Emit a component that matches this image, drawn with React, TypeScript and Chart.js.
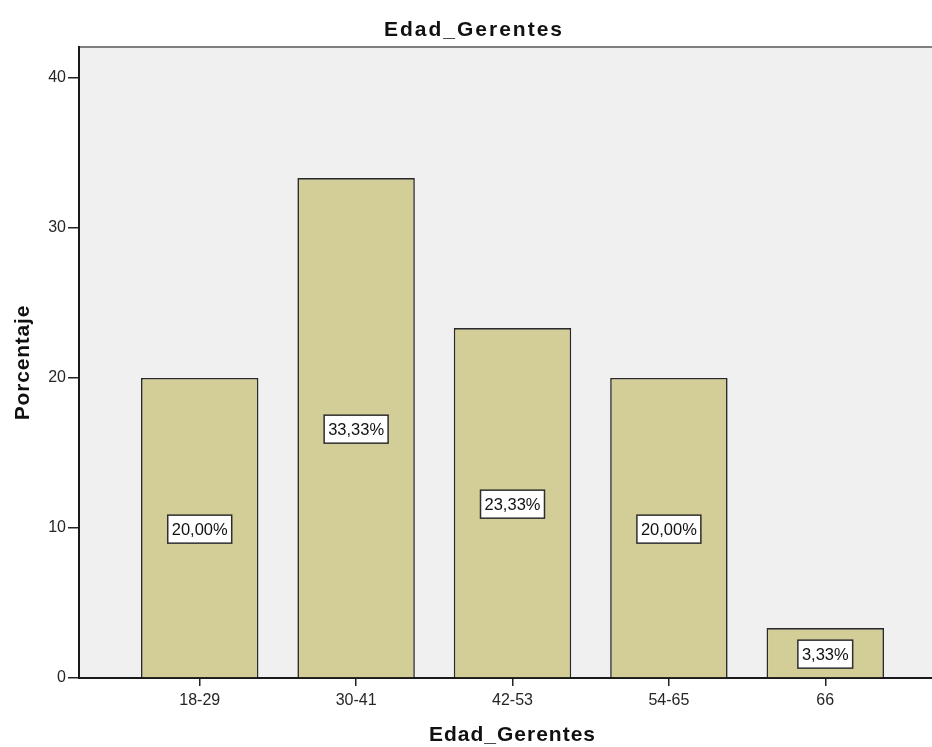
import React, { useEffect, useRef } from "react";
import { Chart, registerables, CategoryScale } from "chart.js";

Chart.register(...registerables);

// ---- data ----
const categories = ["18-29", "30-41", "42-53", "54-65", "66"];
const percentages = [20.0, 33.33, 23.33, 20.0, 3.33];
const yTicks = [0, 10, 20, 30, 40];
const yMax = 42.07;
const chartTitle = "Edad_Gerentes";
const xTitle = "Edad_Gerentes";
const yTitle = "Porcentaje";

const EDGE_PAD = 0.772;
const FONT = '"Liberation Sans", Arial, sans-serif';

class PaddedCategoryScale extends CategoryScale {
  static id = "paddedCategory";
  static defaults = CategoryScale.defaults;
  configure() {
    super.configure();
    const self = this as any;
    self._startValue = self.min - EDGE_PAD;
    self._valueRange = Math.max(self.max - self.min, 1) + 2 * EDGE_PAD;
  }
}
Chart.register(PaddedCategoryScale as any);

const spssPlugin = {
  id: "spssLook",
  beforeDraw(chart: any) {
    const { ctx, chartArea: a } = chart;
    ctx.save();
    ctx.fillStyle = "#f0f0f0";
    ctx.fillRect(a.left, a.top, a.right - a.left, a.bottom - a.top);
    ctx.strokeStyle = "#7f7f7f";
    ctx.lineWidth = 2;
    ctx.beginPath();
    ctx.moveTo(a.left, a.top);
    ctx.lineTo(a.right, a.top);
    ctx.stroke();
    ctx.restore();
  },
  afterDatasetsDraw(chart: any) {
    const { ctx } = chart;
    const meta = chart.getDatasetMeta(0);
    ctx.save();
    ctx.font = `16.5px ${FONT}`;
    meta.data.forEach((bar: any, i: number) => {
      const { x, y, base } = bar.getProps(["x", "y", "base"], true);
      const cy = (y + base) / 2 + 1.5;
      const text = percentages[i].toFixed(2).replace(".", ",") + "%";
      const w = ctx.measureText(text).width + 8;
      const h = 28;
      ctx.fillStyle = "#ffffff";
      ctx.fillRect(x - w / 2, cy - h / 2, w, h);
      ctx.strokeStyle = "#2e2e2e";
      ctx.lineWidth = 1.5;
      ctx.strokeRect(x - w / 2, cy - h / 2, w, h);
      ctx.fillStyle = "#111111";
      ctx.textAlign = "center";
      ctx.textBaseline = "middle";
      ctx.fillText(text, x, cy + 1);
    });
    ctx.restore();
  },
  afterDraw(chart: any) {
    const { ctx, chartArea: a } = chart;
    ctx.save();
    ctx.fillStyle = "#111111";
    ctx.textAlign = "center";
    ctx.textBaseline = "middle";
    ctx.font = `bold 21px ${FONT}`;
    (ctx as any).letterSpacing = "2px";
    ctx.fillText(chartTitle, chart.width / 2 + 1, 30);
    (ctx as any).letterSpacing = "1px";
    ctx.fillText(xTitle, (a.left + a.right) / 2, 735);
    (ctx as any).letterSpacing = "0.8px";
    ctx.translate(23, (a.top + a.bottom) / 2);
    ctx.rotate(-Math.PI / 2);
    ctx.fillText(yTitle, 0, 0);
    ctx.restore();
  },
};

export default function App() {
  const ref = useRef<HTMLCanvasElement | null>(null);
  useEffect(() => {
    if (!ref.current) return;
    const tickFont = { family: FONT, size: 16 };
    const chart = new Chart(ref.current, {
      type: "bar",
      data: {
        labels: categories,
        datasets: [
          {
            data: percentages,
            backgroundColor: "#d3ce97",
            borderColor: "#2a2a2a",
            borderWidth: 1.6,
            barPercentage: 0.751,
            categoryPercentage: 1,
          },
        ],
      },
      options: {
        responsive: false,
        animation: false,
        devicePixelRatio: 1,
        layout: { padding: { top: 47, left: 0, right: 0, bottom: 0 } },
        plugins: {
          legend: { display: false },
          title: { display: false },
          tooltip: { enabled: false },
        },
        scales: {
          x: {
            type: "paddedCategory" as any,
            offset: false,
            grid: {
              display: true,
              offset: false,
              drawOnChartArea: false,
              drawTicks: true,
              tickLength: 8,
              color: "#222222",
              lineWidth: 1.5,
            },
            border: { display: true, color: "#1a1a1a", width: 2 },
            ticks: {
              color: "#262626",
              font: tickFont,
              padding: 5,
              maxRotation: 0,
              autoSkip: false,
            },
            afterFit: (s: any) => {
              s.height = 69;
              s.paddingLeft = 0;
              s.paddingRight = 0;
            },
          } as any,
          y: {
            min: 0,
            max: yMax,
            afterBuildTicks: (s: any) => {
              s.ticks = yTicks.map((v) => ({ value: v }));
            },
            grid: {
              drawOnChartArea: false,
              drawTicks: true,
              tickLength: 11,
              color: "#222222",
              lineWidth: 1.5,
            },
            border: { display: true, color: "#1a1a1a", width: 2 },
            ticks: { color: "#262626", font: tickFont, padding: 2 },
            afterFit: (s: any) => {
              s.width = 79;
              s.paddingTop = 0;
              s.paddingBottom = 0;
            },
          },
        },
      },
      plugins: [spssPlugin],
    });
    return () => chart.destroy();
  }, []);
  return (
    <div
      style={{
        position: "fixed",
        left: 0,
        top: 0,
        width: 932,
        height: 747,
        overflow: "hidden",
        background: "#ffffff",
      }}
    >
      <canvas ref={ref} width={946} height={747} style={{ display: "block" }} />
    </div>
  );
}
